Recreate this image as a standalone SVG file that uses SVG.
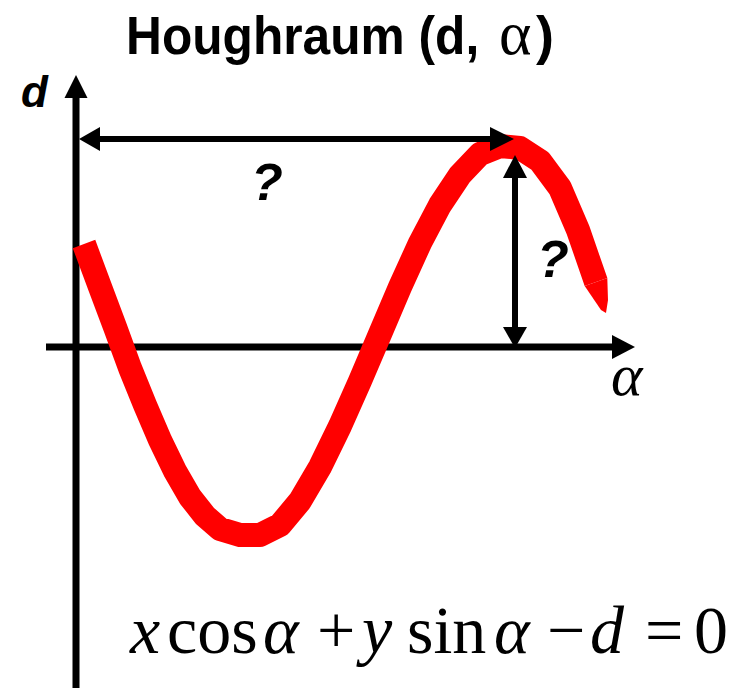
<svg xmlns="http://www.w3.org/2000/svg" width="740" height="688" viewBox="0 0 740 688">
<defs>
<style>
.ax{stroke:#000;stroke-width:7;fill:none}
.ar{stroke:#000;stroke-width:6;fill:none}
.hd{fill:#000}
.curve{stroke:#ff0000;stroke-width:24;fill:none;stroke-linejoin:round}
.lbl{font-family:"Liberation Sans",Arial,sans-serif;font-weight:bold;font-style:italic;fill:#000}
.tt{font-family:"Liberation Sans",Arial,sans-serif;font-weight:bold;font-size:54px;fill:#000}
.eq{font-family:"Liberation Serif","Times New Roman",serif;font-size:68px;fill:#000}
.it{font-style:italic}
</style>
</defs>
<rect width="740" height="688" fill="#fff"/>
<g id="title">
<text class="tt" x="137" y="54" transform="scale(0.92,1)">Houghraum (d,</text>
<text x="499" y="54" font-family="Liberation Serif,serif" font-size="62">α</text>
<text class="tt" x="536" y="54">)</text>
</g>
<g id="axes">
<line class="ax" x1="76" y1="96" x2="76" y2="688"/>
<polygon class="hd" points="76,75 64.5,98 87.5,98"/>
<line class="ax" x1="46" y1="347" x2="614" y2="347"/>
<polygon class="hd" points="635,347 612,335 612,359"/>
<text class="lbl" x="21" y="107" font-size="44">d</text>
<text x="611" y="395" font-family="Liberation Serif,serif" font-style="italic" font-size="60">α</text>
</g>
<g id="curve">
<polyline class="curve" points="84,244 100,287 115,327 130,368 145,405 160,440 175,471 190,497 205,516 220,529 240,535 260,535 280,525 300,501 320,467 340,426 360,381 380,334 400,287 420,243 440,205 460,175 480,154 500,146 520,148 540,161 560,188 578,230 596,282"/>
<polygon fill="#ff0000" points="607.3,278 608,300 606,313 601,310 584.7,286"/>
</g>
<g id="connectors">
<line class="ar" x1="98" y1="139" x2="492" y2="139"/>
<polygon class="hd" points="79,139 100,127 100,151"/>
<polygon class="hd" points="514,139 490,127 490,151"/>
<line class="ar" x1="515" y1="176" x2="515" y2="329"/>
<polygon class="hd" points="515,155 503,178 527,178"/>
<polygon class="hd" points="515,348 503,327 527,327"/>
</g>
<g id="labels">
<text class="lbl" x="251" y="200" font-size="52">?</text>
<text class="lbl" x="537" y="277" font-size="52">?</text>
</g>
<g id="equation">
<text class="eq it" x="130" y="653">x</text>
<text class="eq" x="167" y="653">cos</text>
<text class="eq it" x="263" y="653">α</text>
<text class="eq" x="317" y="653">+</text>
<text class="eq it" x="362" y="653">y</text>
<text class="eq" x="407" y="653">sin</text>
<text class="eq it" x="494" y="653">α</text>
<text class="eq" x="547" y="653">−</text>
<text class="eq it" x="590" y="653">d</text>
<text class="eq" x="645" y="653">=</text>
<text class="eq" x="694" y="653">0</text>
</g>
</svg>
